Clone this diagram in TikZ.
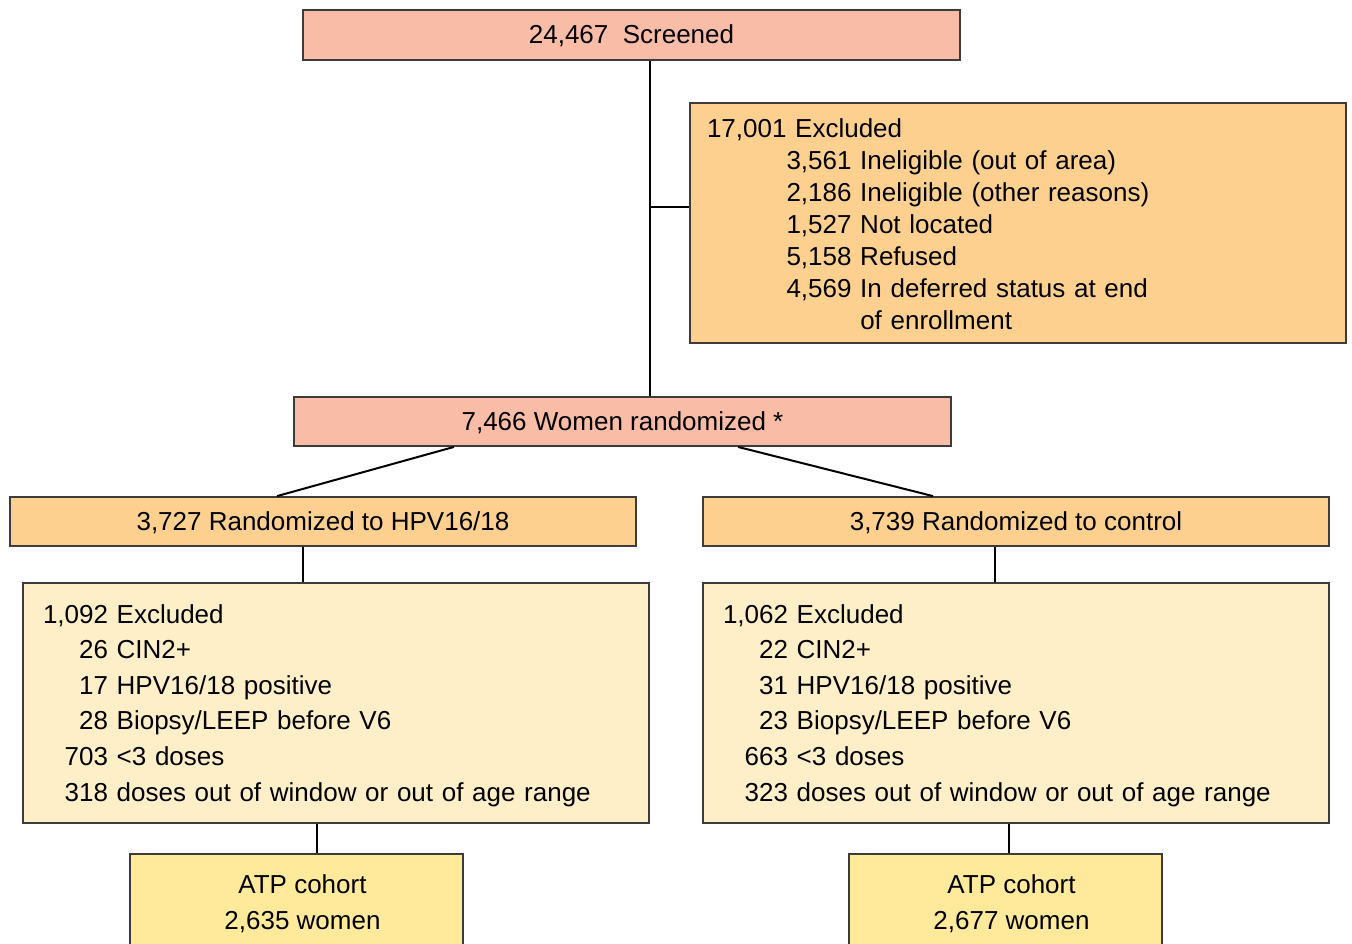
\documentclass[tikz,border=0pt]{standalone}
\usepackage{fontspec}
\setmainfont{Liberation Sans}
\definecolor{salmon}{HTML}{F9BCA6}
\definecolor{orng}{HTML}{FDD08F}
\definecolor{pale}{HTML}{FEEFC8}
\definecolor{atpc}{HTML}{FEEA9A}
\definecolor{edgec}{HTML}{3C3C3C}
\newcommand{\lowr}[2]{\raisebox{-#1}[\height][\depth]{#2}}
\begin{document}
\begin{tikzpicture}[x=0.5pt,y=-0.5pt,
  box/.style={draw=edgec, line width=0.9pt, rectangle, inner sep=0pt,
    font=\fontsize{13}{16}\selectfont},
  listbox/.style={box, align=left, font=\fontsize{13}{17.8}\selectfont},
  atpbox/.style={box, fill=atpc, minimum height=49pt, align=center,
    font=\fontsize{13}{18}\selectfont},
  conn/.style={draw=black, line width=1pt}]
\clip (0,0) rectangle (1352,943);
\fill[white] (0,0) rectangle (1352,943);

\node[box, fill=salmon, minimum width=328.5pt, minimum height=25pt] (scr) at (631.5,35) {\lowr{0.5pt}{24,467\ \ Screened}};

\node[box, fill=orng, minimum width=328pt, minimum height=120pt, inner xsep=8.5pt,
  text width=311pt, align=left] (exc) at (1018,223)
  {\lowr{2pt}{\begin{tabular}{@{}l@{}}
   17,001 Excluded\\
   \phantom{17,001}3,561 Ineligible (out of area)\\
   \phantom{17,001}2,186 Ineligible (other reasons)\\
   \phantom{17,001}1,527 Not located\\
   \phantom{17,001}5,158 Refused\\
   \phantom{17,001}4,569 In deferred status at end\\
   \phantom{17,001}\phantom{4,569 }of enrollment
   \end{tabular}}};

\node[box, fill=salmon, minimum width=328.5pt, minimum height=24.5pt] (rand) at (622.5,421.5) {\lowr{0.5pt}{7,466 Women randomized *}};

\node[box, fill=orng, minimum width=313pt, minimum height=24.5pt] (hpv) at (323,521.5) {\lowr{0.5pt}{3,727 Randomized to HPV16/18}};
\node[box, fill=orng, minimum width=313pt, minimum height=24.5pt] (ctl) at (1016,521.5) {\lowr{0.5pt}{3,739 Randomized to control}};

\node[listbox, fill=pale, minimum width=313pt, minimum height=120pt, inner xsep=10pt,
  text width=293pt] (exL) at (336,703)
  {\lowr{1pt}{\begin{tabular}{@{}r@{ }l@{}}
   1,092 & Excluded\\
   26 & CIN2+\\
   17 & HPV16/18 positive\\
   28 & Biopsy/LEEP before V6\\
   703 & <3 doses\\
   318 & doses out of window or out of age range
   \end{tabular}}};
\node[listbox, fill=pale, minimum width=313pt, minimum height=120pt, inner xsep=10pt,
  text width=293pt] (exR) at (1016,703)
  {\lowr{1pt}{\begin{tabular}{@{}r@{ }l@{}}
   1,062 & Excluded\\
   22 & CIN2+\\
   31 & HPV16/18 positive\\
   23 & Biopsy/LEEP before V6\\
   663 & <3 doses\\
   323 & doses out of window or out of age range
   \end{tabular}}};

\node[atpbox, minimum width=166.5pt] (atpL) at (296.5,903)
  {\hspace*{6pt}\lowr{0.5pt}{\begin{tabular}{@{}c@{}}ATP cohort\\2,635 women\end{tabular}}};
\node[atpbox, minimum width=156.5pt] (atpR) at (1005.5,903)
  {\hspace*{6pt}\lowr{0.5pt}{\begin{tabular}{@{}c@{}}ATP cohort\\2,677 women\end{tabular}}};

\coordinate (j) at (650,207);
\coordinate (xa) at (454,0);
\coordinate (xb) at (277,0);
\coordinate (xc) at (738,0);
\coordinate (xd) at (933,0);
\coordinate (xe) at (303,0);
\coordinate (xf) at (995,0);
\coordinate (xg) at (317,0);
\coordinate (xh) at (1009,0);

\draw[conn] (scr.south -| j) -- (rand.north -| j);
\draw[conn] (j) -- (exc.west |- j);
\draw[conn] (rand.south -| xa) -- (hpv.north -| xb);
\draw[conn] (rand.south -| xc) -- (ctl.north -| xd);
\draw[conn] (hpv.south -| xe) -- (exL.north -| xe);
\draw[conn] (ctl.south -| xf) -- (exR.north -| xf);
\draw[conn] (exL.south -| xg) -- (atpL.north -| xg);
\draw[conn] (exR.south -| xh) -- (atpR.north -| xh);
\end{tikzpicture}
\end{document}
